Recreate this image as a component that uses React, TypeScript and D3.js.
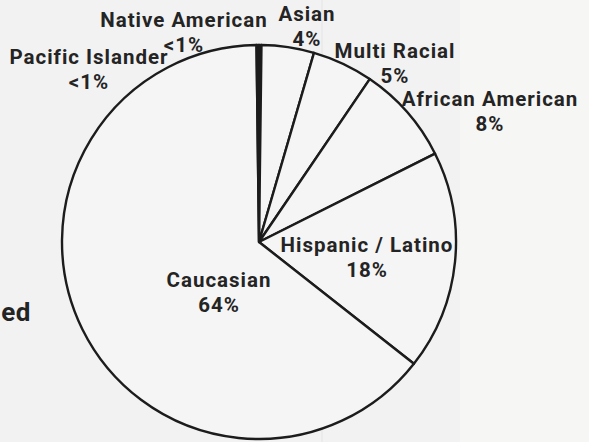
import React from "react";
import * as d3 from "d3";

const categories = [
  "Native American",
  "Asian",
  "Multi Racial",
  "African American",
  "Hispanic / Latino",
  "Caucasian",
  "Pacific Islander",
];
const values = [0.2, 4.3, 5, 8.1, 18, 64.2, 0.2];
const valueLabels = ["<1%", "4%", "5%", "8%", "18%", "64%", "<1%"];
const sliverCategories = ["Native American", "Pacific Islander"];

const W = 589;
const H = 442;
const CX = 259;
const CY = 242;
const R = 197;

// label anchor (center x, baseline y of name line) per category
const labelLayout: Record<string, [number, number]> = {
  "Native American": [184, 27],
  Asian: [307, 21],
  "Multi Racial": [395, 58],
  "African American": [490, 106],
  "Hispanic / Latino": [367, 252],
  Caucasian: [219, 287],
  "Pacific Islander": [89, 64],
};

export default function App() {
  const pie = d3
    .pie<number>()
    .sort(null)
    .value((d) => d)
    .startAngle(0)
    .endAngle(2 * Math.PI);
  const arcs = pie(values);
  const arc = d3.arc<d3.PieArcDatum<number>>().innerRadius(0).outerRadius(R);

  const font = "Roboto, 'Open Sans', sans-serif";
  return (
    <svg
      width={W}
      height={H}
      viewBox={`0 0 ${W} ${H}`}
      style={{ position: "absolute", left: 0, top: 0, background: "#f2f2f2" }}
    >
      <rect x={0} y={0} width={W} height={H} fill="#f2f2f2" />
      <rect x={460} y={0} width={W - 460} height={H} fill="#f6f6f4" />
      <line x1={322} y1={0} x2={322} y2={H} stroke="#e4e4e4" strokeWidth={1} />
      <g transform={`translate(${CX},${CY})`}>
        {arcs.map((a, i) => {
          const dark = sliverCategories.includes(categories[i]);
          return (
            <path
              key={categories[i]}
              d={arc(a) || ""}
              fill={dark ? "#1c1c1c" : "#f5f5f5"}
              stroke="#1c1c1c"
              strokeWidth={2.4}
              strokeLinejoin="round"
            />
          );
        })}
      </g>
      {categories.map((c, i) => {
        const [x, y] = labelLayout[c];
        return (
          <g
            key={c}
            fontFamily={font}
            fontWeight={700}
            fill="#242424"
            textAnchor="middle"
            fontSize={20.5}
            letterSpacing={1}
          >
            <text x={x} y={y}>
              {c}
            </text>
            <text x={x} y={y + 24.5}>
              {valueLabels[i]}
            </text>
          </g>
        );
      })}
      <text
        x={31}
        y={321}
        textAnchor="end"
        fontFamily={font}
        fontWeight={700}
        fontSize={26}
        letterSpacing={0.5}
        fill="#242424"
      >
        ed
      </text>
    </svg>
  );
}
